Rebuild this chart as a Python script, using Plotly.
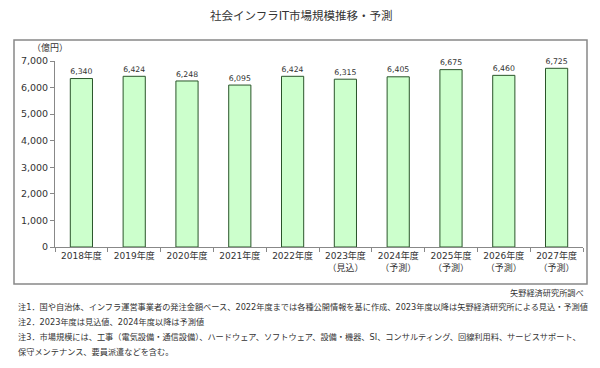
import plotly.graph_objects as go

categories = ["2018年度", "2019年度", "2020年度", "2021年度", "2022年度",
              "2023年度", "2024年度", "2025年度", "2026年度", "2027年度"]
sublabels = ["", "", "", "", "", "（見込）", "（予測）", "（予測）", "（予測）", "（予測）"]
values = [6340, 6424, 6248, 6095, 6424, 6315, 6405, 6675, 6460, 6725]
y_ticks = [0, 1000, 2000, 3000, 4000, 5000, 6000, 7000]

title = "社会インフラIT市場規模推移・予測"
unit = "（億円）"
source = "矢野経済研究所調べ"
notes = [
    "注1．国や自治体、インフラ運営事業者の発注金額ベース、2022年度までは各種公開情報を基に作成、2023年度以降は矢野経済研究所による見込・予測値",
    "注2．2023年度は見込値、2024年度以降は予測値",
    "注3．市場規模には、工事（電気設備・通信設備）、ハードウェア、ソフトウェア、設備・機器、SI、コンサルティング、回線利用料、サービスサポート、",
    "保守メンテナンス、要員派遣などを含む。",
]

FONT = "Verdana, DejaVu Sans, Noto Sans CJK JP"
W, H = 600, 368
L, R, T, B = 55, 17, 61, 121
pw, ph = W - L - R, H - T - B

def px(x):
    return (x - L) / pw

def py(y):
    return (H - B - y) / ph

ticktext = [c + ("<br>" + s if s else "") for c, s in zip(categories, sublabels)]

fig = go.Figure(go.Bar(
    x=categories, y=values,
    marker=dict(color="#ccffcc", line=dict(color="#2a552a", width=1)),
    width=0.42,
    text=[f"{v:,}" for v in values], textposition="outside",
    textfont=dict(size=10.5, color="#333333", family=FONT),
    cliponaxis=False,
))

fig.update_layout(
    width=W, height=H, margin=dict(l=L, r=R, t=T, b=B),
    paper_bgcolor="white", plot_bgcolor="white",
    font=dict(family=FONT, size=9, color="#333333"),
    showlegend=False,
    xaxis=dict(type="category", tickmode="array", tickvals=categories, ticktext=ticktext,
               tickson="boundaries", ticks="outside", ticklen=4, tickcolor="#888888",
               showline=True, linecolor="#888888", showgrid=False,
               tickfont=dict(size=9, color="#333333")),
    yaxis=dict(range=[0, 7000], tickvals=y_ticks, tickformat=",", ticks="outside",
               ticklen=4, tickcolor="#888888", showline=True, linecolor="#888888",
               showgrid=False, zeroline=False, tickfont=dict(size=9.5, color="#333333")),
    shapes=[dict(type="rect", xref="paper", yref="paper",
                 x0=px(14), x1=px(587), y0=py(284), y1=py(40),
                 line=dict(color="#888888", width=1.5), fillcolor="rgba(0,0,0,0)", layer="below")],
    annotations=[
        dict(text=title, xref="paper", yref="paper", x=px(301), y=py(16), showarrow=False,
             xanchor="center", yanchor="middle", font=dict(size=11.5, color="#333333")),
        dict(text=unit, xref="paper", yref="paper", x=px(30), y=py(47), showarrow=False,
             xanchor="left", yanchor="middle", font=dict(size=9, color="#333333")),
        dict(text=source, xref="paper", yref="paper", x=px(586), y=py(293), showarrow=False,
             xanchor="right", yanchor="middle", font=dict(size=8.2, color="#333333")),
    ] + [
        dict(text=n, xref="paper", yref="paper", x=px(16), y=py(307 + 15 * i), showarrow=False,
             xanchor="left", yanchor="middle", font=dict(size=8.2, color="#333333"))
        for i, n in enumerate(notes)
    ],
)

fig.write_html("out.html", config={"displayModeBar": False},
               post_script="document.body.style.margin='0';document.body.style.overflow='hidden';")
